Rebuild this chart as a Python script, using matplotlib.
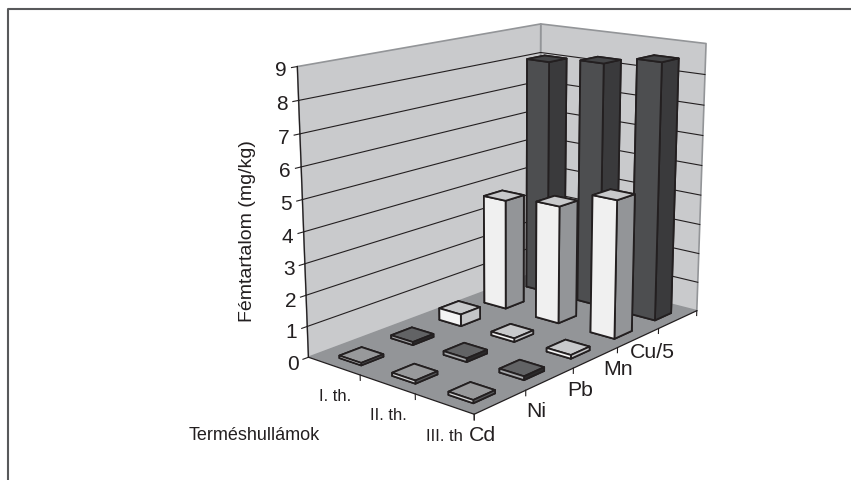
'''Fémtartalom termeshullamonkent, Excel-style 3D columns'''

import matplotlib
matplotlib.use('Agg')
import matplotlib.pyplot as plt
from matplotlib.lines import Line2D
from mpl_toolkits.mplot3d import proj3d
from mpl_toolkits.mplot3d.art3d import Poly3DCollection

plt.rcParams['font.family'] = ['Liberation Sans', 'DejaVu Sans']

W, H = 851, 481

series     = ['I. th.', 'II. th.', 'III. th']
categories = ['Cd', 'Ni', 'Pb', 'Mn', 'Cu/5']
zticks     = [0, 1, 2, 3, 4, 5, 6, 7, 8, 9]

first  = [0.08, 0.10, 0.40, 3.75, 8.07]
second = [0.10, 0.12, 0.12, 3.95, 8.27]
third  = [0.10, 0.12, 0.12, 4.55, 8.56]
values = [first, second, third]

# per category: (top, left face, right face)
faces = {
    'Cd'  : ('#98999b', '#d8d9da', '#58595b'),
    'Ni'  : ('#626365', '#a6a8ab', '#2b2a2b'),
    'Pb'  : ('#c8c9cb', '#f4f4f4', '#c4c5c7'),
    'Mn'  : ('#c8c9cb', '#f0f0f0', '#939598'),
    'Cu/5': ('#444547', '#4d4e50', '#3a3a3c'),
}
EDGE = '#231f20'

fig = plt.figure(figsize=(W/100, H/100), dpi=100)

# view found by fitting the seven visible box corners
S, TX, TY = 2673.98, 511.19, 198.26
ax = fig.add_axes([0, 0, 1, 1], projection='3d', computed_zorder=False)
x0, y0, x1, y1 = ax.viewLim.extents
left, bottom = TX + S*x0, H - TY + S*y0
ax.set_position([left/W, bottom/H, S*(x1-x0)/W, S*(y1-y0)/H])
ax.view_init(elev=14.9556, azim=-50.0045)
ax.set_proj_type('persp', focal_length=0.54628)
ax.set_box_aspect((0.75165, 1.25093, 1))
ax.set_axis_off()
ax.patch.set_alpha(0)

nx, ny, top = len(series), len(categories), zticks[-1]

# walls and floor
ax.add_collection3d(Poly3DCollection(
    [[(0, 0, 0), (0, ny, 0), (0, ny, top), (0, 0, top)],
     [(0, ny, 0), (nx, ny, 0), (nx, ny, top), (0, ny, top)]],
    facecolor='#c9cacc', edgecolor='#939598', linewidth=1.2, zorder=1))
ax.add_collection3d(Poly3DCollection(
    [[(0, 0, 0), (nx, 0, 0), (nx, ny, 0), (0, ny, 0)]],
    facecolor='#939598', edgecolor='none', zorder=1.5))

for z in zticks[1:-1]:
    ax.plot([0, 0, nx], [0, ny, ny], [z, z, z], color=EDGE, lw=0.8, zorder=2)
for z in zticks:
    ax.plot([0, 0], [-0.1, 0], [z, z], color=EDGE, lw=0.8, zorder=2)

ax.plot([0, 0], [0, 0], [0, top], color=EDGE, lw=0.9, zorder=2)
ax.plot([0, nx, nx], [0, 0, ny], [0, 0, 0], color=EDGE, lw=0.9, zorder=2)
for i in range(1, nx+1):
    ax.plot([i, i], [0, 0], [0, -0.17], color=EDGE, lw=0.8, zorder=2)
for j in range(ny+1):
    ax.plot([nx, nx], [j, j], [0, -0.17], color=EDGE, lw=0.8, zorder=2)

# columns, painted from the back to the front
BAR_W, GAP_X, GAP_Y = 0.42, 0.235, 0.25
order = 3
for j in range(ny-1, -1, -1):
    for i in range(nx):
        top_c, left_c, right_c = faces[categories[j]]
        ax.bar3d(i + 1 - GAP_X - BAR_W, j + GAP_Y, 0, BAR_W, BAR_W, values[i][j],
                 color=[top_c, top_c, left_c, left_c, right_c, right_c],
                 edgecolor=EDGE, linewidth=1.3, shade=False, zorder=order)
        order += 1

ax.set_xlim(0, nx)
ax.set_ylim(0, ny)
ax.set_zlim(0, top)

def label(x, y, z, text, size):
    px, py, _ = proj3d.proj_transform(x, y, z, ax.get_proj())
    ax.text2D(px, py, text, fontsize=size, color=EDGE, ha='center', va='center')

for z in zticks:
    label(0, -0.28, z, str(z), 15)
for i, name in enumerate(series):
    label(i+0.5, 0, -0.95, name, 12)
cat_y = [0.16, 1.22, 2.15, 3.02, 3.87]
cat_z = [-0.72, -0.78, -0.78, -0.72, -0.72]
for j, name in enumerate(categories):
    label(nx, cat_y[j], cat_z[j], name, 15.3)

fig.text(247/W, 1-231/H, 'Fémtartalom (mg/kg)', rotation=90, fontsize=14, color=EDGE,
         ha='center', va='center')
fig.text(254/W, 1-436/H, 'Terméshullámok', fontsize=13, color=EDGE, ha='center', va='center')

fig.add_artist(Line2D([8/W, 8/W, 1], [0, 1-10/H, 1-10/H], color='#58595b', lw=1.5))

fig.savefig('out.png', dpi=100)
